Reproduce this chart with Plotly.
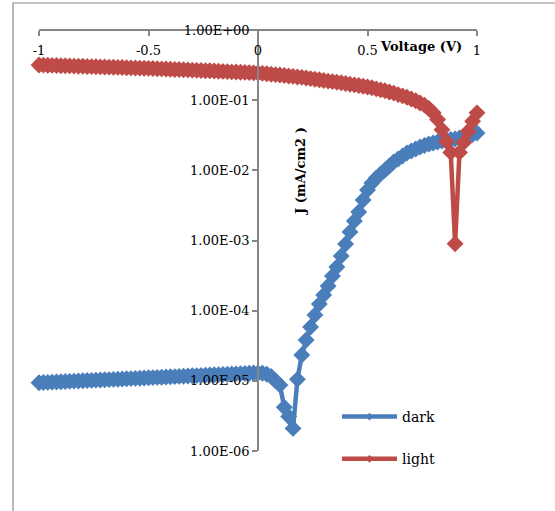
import plotly.graph_objects as go

voltage = [round(-1 + 0.02 * i, 2) for i in range(101)]

dark = [
    9.40e-6, 9.46e-6, 9.52e-6, 9.58e-6, 9.64e-6, 9.70e-6, 9.77e-6, 9.83e-6, 9.89e-6, 9.96e-6,
    1.002e-5, 1.009e-5, 1.015e-5, 1.022e-5, 1.028e-5, 1.035e-5, 1.042e-5, 1.049e-5, 1.055e-5, 1.062e-5,
    1.069e-5, 1.076e-5, 1.083e-5, 1.090e-5, 1.097e-5, 1.104e-5, 1.112e-5, 1.119e-5, 1.126e-5, 1.134e-5,
    1.141e-5, 1.148e-5, 1.156e-5, 1.164e-5, 1.171e-5, 1.179e-5, 1.187e-5, 1.194e-5, 1.202e-5, 1.210e-5,
    1.218e-5, 1.226e-5, 1.234e-5, 1.242e-5, 1.250e-5, 1.258e-5, 1.266e-5, 1.274e-5, 1.282e-5, 1.290e-5,
    1.295e-5,  # 0.00
    1.28e-5, 1.24e-5, 1.15e-5, 1.00e-5, 8.7e-6, 4.2e-6, 3.1e-6, 2.1e-6, 1.05e-5, 2.33e-5,  # 0.02..0.20
    3.82e-5, 5.85e-5, 8.67e-5, 1.24e-4, 1.67e-4, 2.25e-4, 3.12e-4, 4.19e-4, 6.01e-4, 8.9e-4,  # 0.22..0.40
    1.32e-3, 1.90e-3, 2.55e-3, 3.78e-3, 5.25e-3, 6.6e-3, 7.8e-3, 8.9e-3, 1.01e-2, 1.15e-2,  # 0.42..0.60
    1.32e-2, 1.45e-2, 1.60e-2, 1.77e-2, 1.89e-2, 2.01e-2, 2.15e-2, 2.26e-2, 2.37e-2, 2.45e-2,  # 0.62..0.80
    2.54e-2, 2.62e-2, 2.71e-2, 2.75e-2, 2.80e-2, 2.89e-2, 2.99e-2, 3.08e-2, 3.24e-2, 3.40e-2,  # 0.82..1.00
]

light = [
    0.317, 0.316, 0.314, 0.313, 0.312, 0.310, 0.309, 0.308, 0.306, 0.305,
    0.304, 0.302, 0.301, 0.300, 0.298, 0.297, 0.296, 0.294, 0.293, 0.292,
    0.290, 0.289, 0.288, 0.286, 0.285, 0.284, 0.282, 0.281, 0.279, 0.278,
    0.276, 0.274, 0.273, 0.271, 0.270, 0.268, 0.266, 0.265, 0.263, 0.262,
    0.260, 0.258, 0.257, 0.255, 0.253, 0.252, 0.250, 0.249, 0.247, 0.245,
    0.244,  # 0.00
    0.241, 0.238, 0.234, 0.231, 0.228, 0.225, 0.221, 0.218, 0.214, 0.211,  # 0.02..0.20
    0.207, 0.203, 0.199, 0.195, 0.191, 0.187, 0.184, 0.180, 0.177, 0.173,  # 0.22..0.40
    0.169, 0.165, 0.162, 0.158, 0.154, 0.150, 0.145, 0.140, 0.136, 0.131,  # 0.42..0.60
    0.126, 0.120, 0.115, 0.110, 0.104, 0.098, 0.091, 0.085, 0.076, 0.066,  # 0.62..0.80
    0.053, 0.038, 0.026, 0.018, 0.0009, 0.018, 0.025, 0.036, 0.050, 0.066,  # 0.82..1.00
]

x_ticks = [-1, -0.5, 0, 0.5, 1]
x_ticktext = ["-1", "-0.5", "0", "0.5", "1"]
y_ticks = [1e0, 1e-1, 1e-2, 1e-3, 1e-4, 1e-5, 1e-6]
y_ticktext = ["1.00E+00", "1.00E-01", "1.00E-02", "1.00E-03", "1.00E-04", "1.00E-05", "1.00E-06"]

BLUE = "#4A7EBB"
RED = "#BE4B48"
FONT = "DejaVu Serif"
W, H = 555, 511

fig = go.Figure()
fig.add_trace(go.Scatter(x=voltage, y=dark, mode="lines+markers", name="dark",
                         line=dict(color=BLUE, width=4.5), cliponaxis=False,
                         marker=dict(symbol="diamond", size=13, color=BLUE),
                         showlegend=False))
fig.add_trace(go.Scatter(x=voltage, y=light, mode="lines+markers", name="light",
                         line=dict(color=RED, width=4.5), cliponaxis=False,
                         marker=dict(symbol="diamond", size=13, color=RED),
                         showlegend=False))
# legend entries
fig.add_trace(go.Scatter(x=[None], y=[None], mode="lines+markers", name="dark",
                         line=dict(color=BLUE, width=4.5), legendgroup="a",
                         marker=dict(symbol="diamond", size=6, color=BLUE)))
fig.add_trace(go.Scatter(x=[None], y=[None], mode="lines+markers", name="light",
                         line=dict(color=RED, width=4.5), legendgroup="b",
                         marker=dict(symbol="diamond", size=6, color=RED)))

x0p, x1p = 39 / W, 477 / W
ytop = 1 - 30 / H
fig.update_layout(
    width=W, height=H,
    margin=dict(l=0, r=0, t=0, b=0, autoexpand=False),
    paper_bgcolor="white", plot_bgcolor="white",
    font=dict(family=FONT, size=13, color="black"),
    showlegend=True,
    legend=dict(x=337 / W, y=1 - 401 / H, xanchor="left", yanchor="top",
                itemwidth=55, bgcolor="rgba(0,0,0,0)", font=dict(family=FONT, size=14),
                traceorder="grouped", tracegroupgap=21),
    xaxis=dict(domain=[x0p, x1p], range=[-1, 1], side="bottom", anchor="free",
               position=ytop, automargin=False,
               showline=True, linecolor="#868686", linewidth=1.5,
               ticks="outside", ticklen=5, tickcolor="#868686", tickwidth=1.5,
               ticklabelstandoff=4,
               tickvals=x_ticks, ticktext=x_ticktext,
               showgrid=False, zeroline=False, tickfont=dict(family=FONT, size=13)),
    yaxis=dict(type="log", range=[-6, 0], domain=[1 - 451 / H, ytop],
               anchor="free", position=258 / W, automargin=False,
               showline=True, linecolor="#868686", linewidth=1.5,
               ticks="outside", ticklen=5, tickcolor="#868686", tickwidth=1.5,
               tickvals=y_ticks, ticktext=y_ticktext,
               showgrid=False, zeroline=False, tickfont=dict(family=FONT, size=13)),
    shapes=[dict(type="rect", xref="paper", yref="paper",
                 x0=13 / W, x1=1.2, y0=-0.2, y1=1 - 3 / H,
                 line=dict(color="#8A8A8A", width=1.2), layer="below")],
    annotations=[
        dict(text="<b>Voltage (V)</b>", xref="paper", yref="paper",
             x=421 / W, y=1 - 46 / H, showarrow=False, xanchor="center", yanchor="middle",
             font=dict(family=FONT, size=13)),
        dict(text="<b>J (mA/cm2 )</b>", xref="paper", yref="paper",
             x=300 / W, y=1 - 171 / H, showarrow=False, textangle=-90,
             xanchor="center", yanchor="middle", font=dict(family=FONT, size=13)),
    ],
)

fig.write_html("out.html")
